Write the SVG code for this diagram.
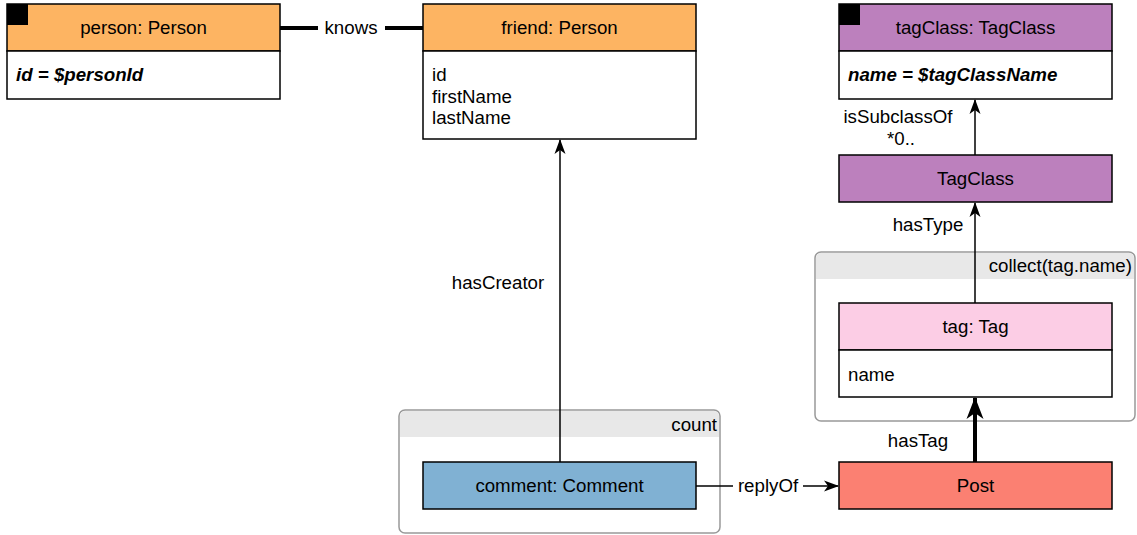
<svg xmlns="http://www.w3.org/2000/svg" width="1137" height="535" viewBox="0 0 1137 535">
<style>
text{font-family:"Liberation Sans",Arial,sans-serif;font-size:18.7px;fill:#000}
.c{text-anchor:middle}
.r{text-anchor:end}
.bi{font-weight:bold;font-style:italic}
.box{stroke:#000;stroke-width:1.5}
.grp{fill:#fff;stroke:#999;stroke-width:1.5}
.gh{fill:#e8e8e8}
.ln{stroke:#000;stroke-width:1.5;fill:none}
</style>
<defs>
<marker id="ar" viewBox="0 0 15 12" refX="14" refY="6" markerWidth="15" markerHeight="12" markerUnits="userSpaceOnUse" orient="auto">
<path d="M0,0.5 L15,6 L0,11.5 L4,6 Z" fill="#000"/>
</marker>
<marker id="arT" viewBox="0 0 22 18" refX="21" refY="9" markerWidth="22" markerHeight="18" markerUnits="userSpaceOnUse" orient="auto">
<path d="M0,0.5 L22,9 L0,17.5 L6,9 Z" fill="#000"/>
</marker>
</defs>

<g id="group-count">
<rect class="grp" x="399" y="410" width="321" height="123" rx="6"/>
<path class="gh" d="M400,437 V416 a5,5 0 0 1 5,-5 H714 a5,5 0 0 1 5,5 V437 Z"/>
<text class="r" x="717" y="431">count</text>
</g>
<g id="group-collect">
<rect class="grp" x="815" y="252" width="320" height="169" rx="6"/>
<path class="gh" d="M816,279 V258 a5,5 0 0 1 5,-5 H1129 a5,5 0 0 1 5,5 V279 Z"/>
<text class="r" x="1132" y="272">collect(tag.name)</text>
</g>

<g id="connectors">
<line x1="280" y1="28" x2="318" y2="28" stroke="#000" stroke-width="4"/>
<line x1="385" y1="28" x2="423" y2="28" stroke="#000" stroke-width="4"/>
<text class="c" x="351" y="34">knows</text>
<line class="ln" x1="560" y1="462" x2="560" y2="140" marker-end="url(#ar)"/>
<text class="c" x="498" y="289">hasCreator</text>
<line class="ln" x1="696" y1="486" x2="733" y2="486"/>
<line class="ln" x1="803" y1="486" x2="838" y2="486" marker-end="url(#ar)"/>
<text class="c" x="768" y="492">replyOf</text>
<line x1="975" y1="462" x2="975" y2="398" stroke="#000" stroke-width="4" marker-end="url(#arT)"/>
<text class="c" x="918" y="447">hasTag</text>
<line class="ln" x1="975" y1="303" x2="975" y2="203" marker-end="url(#ar)"/>
<text class="c" x="928" y="231">hasType</text>
<line class="ln" x1="975" y1="155" x2="975" y2="100" marker-end="url(#ar)"/>
<text class="c" x="898" y="123">isSubclassOf</text>
<text class="c" x="901" y="145">*0..</text>
</g>

<g id="node-person">
<rect class="box" x="7" y="4" width="273" height="47" fill="#FDB462"/>
<rect class="box" x="7" y="51" width="273" height="48" fill="#fff"/>
<rect x="7" y="4" width="21" height="21" fill="#000"/>
<text class="c" x="143.5" y="34">person: Person</text>
<text class="bi" x="16" y="81">id = $personId</text>
</g>

<g id="node-friend">
<rect class="box" x="423" y="4" width="273" height="47" fill="#FDB462"/>
<rect class="box" x="423" y="51" width="273" height="88" fill="#fff"/>
<text class="c" x="559.5" y="34">friend: Person</text>
<text x="432" y="81">id</text>
<text x="432" y="102.5">firstName</text>
<text x="432" y="124">lastName</text>
</g>

<g id="node-tagClass">
<rect class="box" x="839" y="4" width="273" height="47" fill="#BC80BD"/>
<rect class="box" x="839" y="51" width="273" height="48" fill="#fff"/>
<rect x="839" y="4" width="21" height="21" fill="#000"/>
<text class="c" x="975.5" y="34">tagClass: TagClass</text>
<text class="bi" x="848" y="81">name = $tagClassName</text>
</g>

<g id="node-TagClass">
<rect class="box" x="839" y="155" width="273" height="47" fill="#BC80BD"/>
<text class="c" x="975.5" y="185">TagClass</text>
</g>

<g id="node-tag">
<rect class="box" x="839" y="303" width="273" height="47" fill="#FCCDE5"/>
<rect class="box" x="839" y="350" width="273" height="47" fill="#fff"/>
<text class="c" x="975.5" y="333">tag: Tag</text>
<text x="848" y="381">name</text>
</g>

<g id="node-post">
<rect class="box" x="839" y="462" width="273" height="47" fill="#FB8072"/>
<text class="c" x="975.5" y="492">Post</text>
</g>

<g id="node-comment">
<rect class="box" x="423" y="462" width="273" height="47" fill="#80B1D3"/>
<text class="c" x="559.5" y="492">comment: Comment</text>
</g>
</svg>
